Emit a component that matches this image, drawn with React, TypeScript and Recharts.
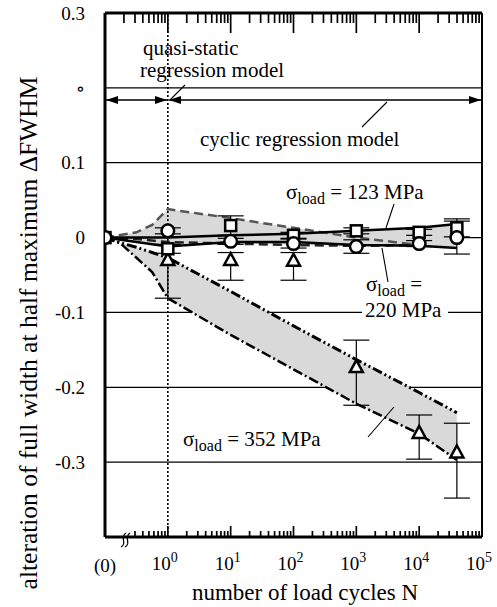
import React from 'react';
import {
  ComposedChart,
  XAxis,
  YAxis,
  CartesianGrid,
  Line,
  Area,
  Scatter,
  ErrorBar,
  ReferenceLine,
} from 'recharts';

const W = 497;
const H = 607;
const FONT = '"Liberation Serif", "Times New Roman", "DejaVu Serif", serif';

// plot box (matches the chart margins / axis sizes below)
const PLOT_L = 105;
const PLOT_R = 482;
const PLOT_T = 13;
const PLOT_B = 537;
const X_MIN = -1;
const X_MAX = 5;
const Y_MIN = -0.4;
const Y_MAX = 0.3;
const px = (v: number) => PLOT_L + ((v - X_MIN) / (X_MAX - X_MIN)) * (PLOT_R - PLOT_L);

// x is log10(N); -1 stands for the unloaded state "(0)" left of the axis break
const cycleLog = [-1, 0, 1, 2, 3, 4, 4.6];

// measured points (open squares / open circles)
const squareVals = [0, -0.015, 0.016, 0.003, 0.009, 0.007, 0.013];
const squareErr = [0, 0.006, 0.013, 0.004, 0.004, 0.004, 0.012];
const circleVals = [0, 0.009, -0.005, -0.008, -0.012, -0.008, 0.0];
const circleErr = [0, 0.004, 0.004, 0.006, 0.009, 0.004, 0.022];

// open triangles (352 MPa), asymmetric error bars [down, up]
const triLog = [0, 1, 2, 3, 4, 4.6];
const triVals = [-0.03, -0.03, -0.031, -0.173, -0.261, -0.287];
const triErrDown = [0.051, 0.027, 0.026, 0.051, 0.035, 0.061];
const triErrUp = [0.02, 0.01, 0.011, 0.036, 0.024, 0.039];

// regression band 352 MPa
const band352Log = [-1, -0.75, -0.5, -0.25, 0, 1, 2, 3, 4, 4.6];
const band352Upper = [0, -0.007, -0.013, -0.02, -0.027, -0.072, -0.118, -0.163, -0.207, -0.234];
const band352Lower = [0, -0.008, -0.027, -0.046, -0.081, -0.13, -0.176, -0.222, -0.262, -0.297];

// regression band 220 MPa (dashed)
const band220Log = [-1, -0.5, -0.25, 0, 1, 2, 3, 4];
const band220Upper = [0, 0.007, 0.017, 0.038, 0.026, 0.013, 0.0, -0.01];
const band220Lower = [0, -0.002, -0.004, -0.006, -0.008, -0.01, -0.011, -0.01];

// regression band 123 MPa (solid)
const band123Log = [-1, 0, 1, 2, 3, 4, 4.6];
const band123Upper = [0, 0.0, 0.003, 0.005, 0.009, 0.013, 0.018];
const band123Lower = [0, -0.012, -0.006, -0.006, -0.01, -0.011, -0.014];

const yTicks = [-0.4, -0.3, -0.2, -0.1, 0, 0.1, 0.2, 0.3];
const yTickLabels = ['', '-0.3', '-0.2', '-0.1', '0', '0.1', '\u2218', '0.3'];
const majorTicks = [-1, 0, 1, 2, 3, 4, 5];
const minorFactors = [2, 3, 4, 5, 6, 7, 8, 9];

const decades = [-1, 0, 1, 2, 3, 4];
const topMinor = decades.flatMap((d) => minorFactors.map((k) => d + Math.log10(k)));
// first decade on the bottom axis starts after the break symbol
const bottomMinor = decades.flatMap((d) =>
  minorFactors.filter((k) => d >= 0 || k > 2).map((k) => d + Math.log10(k))
);
const inner = majorTicks.slice(1, -1);

const squareData = cycleLog.map((x, i) => ({ x, y: squareVals[i], err: squareErr[i] }));
const circleData = cycleLog.map((x, i) => ({ x, y: circleVals[i], err: circleErr[i] }));
const triData = triLog.map((x, i) => ({ x, y: triVals[i], err: [triErrDown[i], triErrUp[i]] }));

const toBand = (xs: number[], lo: number[], hi: number[]) =>
  xs.map((x, i) => ({ x, range: [lo[i], hi[i]], lo: lo[i], hi: hi[i] }));
const band352 = toBand(band352Log, band352Lower, band352Upper);
const band220 = toBand(band220Log, band220Lower, band220Upper);
const band123 = toBand(band123Log, band123Lower, band123Upper);

const SquareMark = (p: any) => (
  <rect x={p.cx - 5.5} y={p.cy - 5.5} width={11} height={11} fill="#fff" stroke="#000" strokeWidth={2.5} />
);
const CircleMark = (p: any) => (
  <circle cx={p.cx} cy={p.cy} r={6.3} fill="#fff" stroke="#000" strokeWidth={2.5} />
);
const TriangleMark = (p: any) => (
  <polygon
    points={`${p.cx},${p.cy - 7} ${p.cx - 6.5},${p.cy + 5} ${p.cx + 6.5},${p.cy + 5}`}
    fill="#fff"
    stroke="#000"
    strokeWidth={2.5}
  />
);

const BottomTick = (props: any) => {
  const { x, y, payload } = props;
  const v = payload.value;
  if (v === -1) {
    return (
      <text x={x} y={y + 35} textAnchor="middle" fontSize={19} fontFamily={FONT} fill="#000">
        (0)
      </text>
    );
  }
  return (
    <text x={x - 3} y={y + 33} textAnchor="middle" fontSize={19} fontFamily={FONT} fill="#000">
      10
      <tspan fontSize={14} dy={-8}>
        {v}
      </tspan>
    </text>
  );
};

const yLabel = (v: number) => {
  const i = yTicks.findIndex((t) => Math.abs(t - v) < 1e-9);
  return i >= 0 ? yTickLabels[i] : '';
};

const txt = { fill: '#000' } as const;

function Annotations() {
  return (
    <svg
      width={W}
      height={H}
      style={{ position: 'absolute', left: 0, top: 0, pointerEvents: 'none', fontFamily: FONT }}
    >
      {/* inward log ticks, top and bottom frame */}
      <g stroke="#000" strokeWidth={1.7}>
        {inner.map((v) => (
          <line key={'a' + v} x1={px(v)} x2={px(v)} y1={PLOT_T} y2={PLOT_T + 20} />
        ))}
        {topMinor.map((v) => (
          <line key={'b' + v} x1={px(v)} x2={px(v)} y1={PLOT_T} y2={PLOT_T + 10} />
        ))}
        {inner.map((v) => (
          <line key={'c' + v} x1={px(v)} x2={px(v)} y1={PLOT_B} y2={PLOT_B - 11} />
        ))}
        {bottomMinor.map((v) => (
          <line key={'d' + v} x1={px(v)} x2={px(v)} y1={PLOT_B} y2={PLOT_B - 6} />
        ))}
      </g>

      {/* axis break */}
      <path d="M121 547 C 128 543, 119 538, 126 533 M125 547 C 132 543, 123 538, 130 533" stroke="#000" strokeWidth={1.3} fill="none" />

      {/* model range arrows */}
      <path d="M106 100 H167 M169 100 H481" stroke="#000" strokeWidth={1.5} fill="none" />
      <g fill="#000">
        <polygon points="106,100 118,96 118,104" />
        <polygon points="167,100 155,96 155,104" />
        <polygon points="169,100 181,96 181,104" />
        <polygon points="481,100 469,96 469,104" />
      </g>

      {/* leader lines */}
      <path
        d="M185 85 L170 100 M387 102 L362 127 M394 204 L386 228 M388 282 L382 248 M394 407 L368 437"
        stroke="#000"
        strokeWidth={1.1}
        fill="none"
      />

      <text x={143} y={55} fontSize={21} {...txt}>quasi-static</text>
      <text x={140} y={77} fontSize={21} {...txt}>regression model</text>
      <text x={200} y={146} fontSize={21} {...txt}>cyclic regression model</text>

      <text x={286} y={199} fontSize={21} {...txt}>
        σ<tspan fontSize={16} dy={5}>load</tspan>
        <tspan dy={-5}> = 123 MPa</tspan>
      </text>

      <text x={366} y={291} fontSize={21} {...txt}>
        σ<tspan fontSize={16} dy={5}>load</tspan>
        <tspan dy={-5}> =</tspan>
      </text>
      <rect x={362} y={303} width={86} height={16} fill="#fff" />
      <text x={365} y={317} fontSize={21} {...txt}>220 MPa</text>

      <text x={183} y={446} fontSize={21} {...txt}>
        σ<tspan fontSize={16} dy={5}>load</tspan>
        <tspan dy={-5}> = 352 MPa</tspan>
      </text>

      {/* axis titles */}
      <text x={305} y={600} fontSize={23} textAnchor="middle" {...txt}>
        number of load cycles N
      </text>
      <text transform="translate(37,333) rotate(-90)" fontSize={25.5} textAnchor="middle" {...txt}>
        alteration of full width at half maximum ΔFWHM
      </text>
    </svg>
  );
}

export default function App() {
  return (
    <div style={{ position: 'absolute', left: 0, top: 0, width: W, height: H, background: '#fff', fontFamily: FONT }}>
      <ComposedChart width={W} height={H} margin={{ top: PLOT_T, right: W - PLOT_R, bottom: 0, left: 0 }}>
        <CartesianGrid vertical={false} stroke="#000" strokeWidth={1.2} />
        <XAxis
          type="number"
          dataKey="x"
          domain={[X_MIN, X_MAX]}
          ticks={majorTicks}
          interval={0}
          height={H - PLOT_B}
          tickSize={0}
          tickMargin={0}
          tickLine={false}
          tick={<BottomTick />}
          axisLine={{ stroke: '#000', strokeWidth: 3 }}
          allowDataOverflow
        />
        <YAxis
          type="number"
          domain={[Y_MIN, Y_MAX]}
          ticks={yTicks}
          interval={0}
          width={PLOT_L}
          tickSize={0}
          tickMargin={20}
          tickLine={false}
          tickFormatter={yLabel}
          tick={{ fill: '#000', fontSize: 19, fontFamily: FONT }}
          axisLine={{ stroke: '#000', strokeWidth: 3 }}
          allowDataOverflow
        />

        <Area data={band352} dataKey="range" type="linear" fill="#d9d9d9" fillOpacity={1} stroke="none" isAnimationActive={false} />
        <Area data={band220} dataKey="range" type="linear" fill="#d9d9d9" fillOpacity={1} stroke="none" isAnimationActive={false} />
        <Area data={band123} dataKey="range" type="linear" fill="#d9d9d9" fillOpacity={1} stroke="none" isAnimationActive={false} />

        <ReferenceLine x={0} stroke="#000" strokeWidth={1.6} strokeDasharray="2 2" />
        <ReferenceLine x={X_MAX} stroke="#000" strokeWidth={2} />
        <ReferenceLine y={Y_MAX} stroke="#000" strokeWidth={3} />

        <Line data={band352} dataKey="hi" type="linear" stroke="#000" strokeWidth={3} strokeDasharray="10 3 2 3 2 3" dot={false} activeDot={false} isAnimationActive={false} />
        <Line data={band352} dataKey="lo" type="linear" stroke="#000" strokeWidth={2.5} strokeDasharray="10 3 2 3" dot={false} activeDot={false} isAnimationActive={false} />
        <Line data={band220} dataKey="hi" type="linear" stroke="#555" strokeWidth={2.5} strokeDasharray="9 5" dot={false} activeDot={false} isAnimationActive={false} />
        <Line data={band220} dataKey="lo" type="linear" stroke="#222" strokeWidth={2.5} strokeDasharray="9 5" dot={false} activeDot={false} isAnimationActive={false} />
        <Line data={band123} dataKey="hi" type="linear" stroke="#000" strokeWidth={2.5} dot={false} activeDot={false} isAnimationActive={false} />
        <Line data={band123} dataKey="lo" type="linear" stroke="#000" strokeWidth={2.5} dot={false} activeDot={false} isAnimationActive={false} />

        <Scatter data={triData} dataKey="y" shape={TriangleMark} isAnimationActive={false}>
          <ErrorBar dataKey="err" direction="y" width={13} stroke="#000" strokeWidth={1.2} />
        </Scatter>
        <Scatter data={squareData} dataKey="y" shape={SquareMark} isAnimationActive={false}>
          <ErrorBar dataKey="err" direction="y" width={13} stroke="#000" strokeWidth={1.2} />
        </Scatter>
        <Scatter data={circleData} dataKey="y" shape={CircleMark} isAnimationActive={false}>
          <ErrorBar dataKey="err" direction="y" width={13} stroke="#000" strokeWidth={1.2} />
        </Scatter>
      </ComposedChart>
      <Annotations />
    </div>
  );
}
